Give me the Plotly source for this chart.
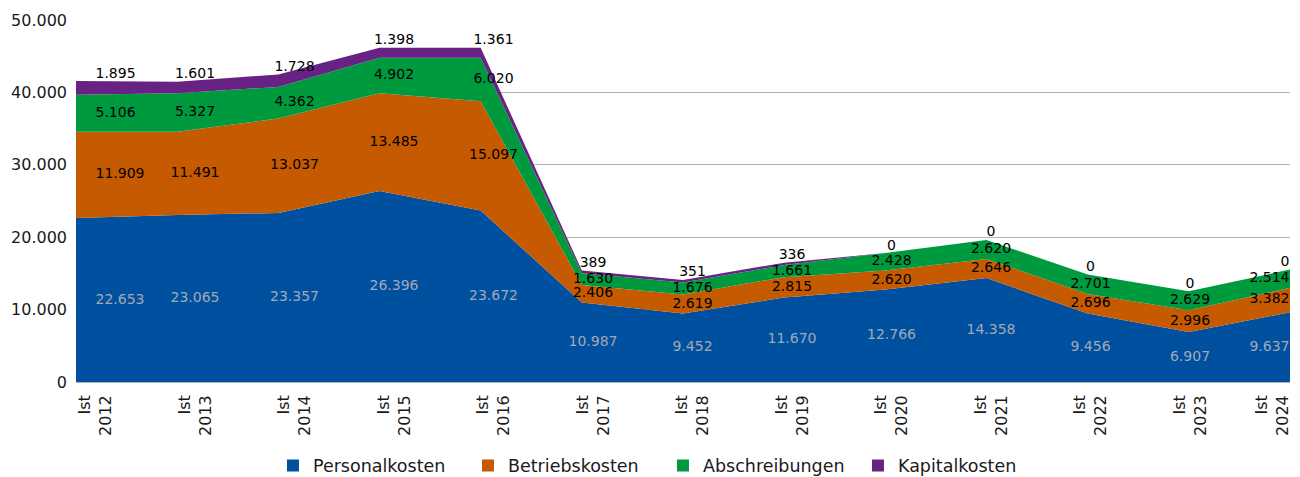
import plotly.graph_objects as go

# Data (Ist-Werte)
jahre = ["Ist<br>2012", "Ist<br>2013", "Ist<br>2014", "Ist<br>2015", "Ist<br>2016", "Ist<br>2017",
         "Ist<br>2018", "Ist<br>2019", "Ist<br>2020", "Ist<br>2021", "Ist<br>2022", "Ist<br>2023", "Ist<br>2024"]
personalkosten = [22653, 23065, 23357, 26396, 23672, 10987, 9452, 11670, 12766, 14358, 9456, 6907, 9637]
betriebskosten = [11909, 11491, 13037, 13485, 15097, 2406, 2619, 2815, 2620, 2646, 2696, 2996, 3382]
abschreibungen = [5106, 5327, 4362, 4902, 6020, 1630, 1676, 1661, 2428, 2620, 2701, 2629, 2514]
kapitalkosten = [1895, 1601, 1728, 1398, 1361, 389, 351, 336, 0, 0, 0, 0, 0]

serien = [
    ("Personalkosten", personalkosten, "#0050A0", "#A3A8B6"),
    ("Betriebskosten", betriebskosten, "#C65A00", "#000000"),
    ("Abschreibungen", abschreibungen, "#009A3E", "#000000"),
    ("Kapitalkosten", kapitalkosten, "#672283", "#000000"),
]

def fmt(v):
    return f"{v:,}".replace(",", ".")

n = len(jahre)
idx = list(range(n))
fig = go.Figure()

# stacked areas
for name, werte, farbe, _ in serien:
    fig.add_trace(go.Scatter(
        x=jahre, y=werte, name=name, mode="lines", stackgroup="kosten",
        line=dict(width=0, color=farbe), fillcolor=farbe,
        hoverinfo="skip", showlegend=False,
    ))

# data labels (on the label axis x2, like the category labels)
basis = [0] * n
for name, werte, farbe, textfarbe in serien:
    if name == "Kapitalkosten":
        ys = [b + w for b, w in zip(basis, werte)]
        pos = ["top right"] + ["top center"] * (n - 2) + ["top left"]
    else:
        ys = [b + w / 2 for b, w in zip(basis, werte)]
        pos = ["middle right"] + ["middle center"] * (n - 2) + ["middle left"]
    fig.add_trace(go.Scatter(
        x=idx, y=ys, xaxis="x2", mode="text", text=[fmt(v) for v in werte],
        textposition=pos, showlegend=False, hoverinfo="skip",
        textfont=dict(family="DejaVu Sans", size=14, color=textfarbe),
    ))
    basis = [b + w for b, w in zip(basis, werte)]

# legend entries with square symbols
for name, werte, farbe, _ in serien:
    fig.add_trace(go.Scatter(
        x=[None], y=[None], mode="markers", name=name,
        marker=dict(symbol="square", size=15, color=farbe),
    ))

# last category label pulled inside the plot
label_pos = idx[:-1] + [n - 1.17]

fig.update_layout(
    width=1292, height=469,
    margin=dict(l=68, r=10, t=12, b=95, autoexpand=False),
    plot_bgcolor="white", paper_bgcolor="white",
    separators=",.",
    font=dict(family="DejaVu Sans", size=16, color="#1a1a1a"),
    showlegend=True,
    legend=dict(orientation="h", x=0.4835, xanchor="center", y=-0.2307, yanchor="middle",
                font=dict(family="DejaVu Sans", size=17.5),
                entrywidth=150, entrywidthmode="pixels",
                itemsizing="constant", traceorder="normal"),
    xaxis=dict(type="category", range=[0, n - 1], showticklabels=False, showgrid=False,
               ticks="", showline=False, automargin=False),
    xaxis2=dict(overlaying="x", anchor="y", side="bottom", range=[-0.196, n - 1 + 0.005],
                tickmode="array", tickvals=label_pos, ticktext=jahre, tickangle=-90,
                showgrid=False, zeroline=False, ticks="", showline=False,
                tickfont=dict(size=16), ticklabelstandoff=9, automargin=False),
    yaxis=dict(range=[0, 50000], dtick=10000, tickformat=",d", showgrid=True,
               gridcolor="#B3B3B3", gridwidth=1, zeroline=True, zerolinecolor="#B3B3B3",
               showline=False, ticks="", tickfont=dict(size=16), ticklabelstandoff=8,
               automargin=False),
)

fig.write_html("out.html")
